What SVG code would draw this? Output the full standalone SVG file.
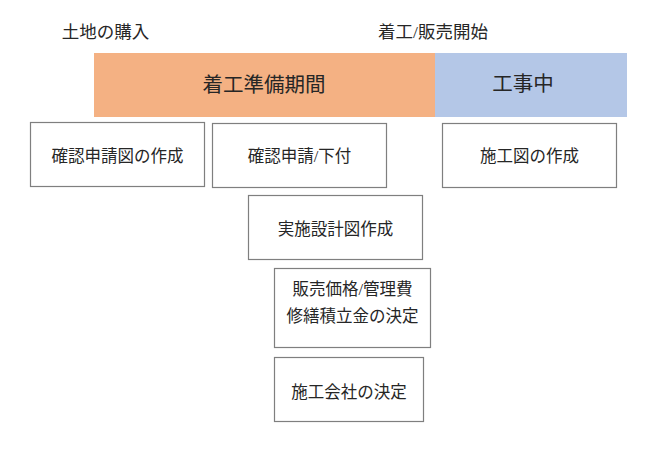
<svg xmlns="http://www.w3.org/2000/svg" width="654" height="454" viewBox="0 0 654 454">
<style>
text{font-family:"Liberation Serif","Noto Sans CJK JP",serif;fill:#262626;text-anchor:middle}
.box{fill:#fff;stroke:#7f7f7f;stroke-width:1.2}
.t{font-size:16.5px}
.lbl{font-size:17.5px}
.big{font-size:20.5px}
</style>
<rect width="654" height="454" fill="#fff"/>
<g id="label-land"><text class="lbl" x="105.5" y="38">土地の購入</text></g>
<g id="label-start"><text class="lbl" x="433" y="38">着工/販売開始</text></g>
<g id="phase-prep"><rect x="94" y="53" width="341" height="64" fill="#F4B183"/><text class="big" x="264" y="92">着工準備期間</text></g>
<g id="phase-build"><rect x="435" y="53" width="192" height="64" fill="#B4C7E7"/><text class="big" x="523" y="91">工事中</text></g>
<g id="n1"><rect class="box" x="30.5" y="122.5" width="174" height="64"/><text class="t" x="117.5" y="162">確認申請図の作成</text></g>
<g id="n2"><rect class="box" x="212.5" y="123.5" width="174" height="64"/><text class="t" x="299.5" y="162">確認申請/下付</text></g>
<g id="n3"><rect class="box" x="442.5" y="123.5" width="174" height="64"/><text class="t" x="529.5" y="162">施工図の作成</text></g>
<g id="n4"><rect class="box" x="248.5" y="195.5" width="174" height="64"/><text class="t" x="335.5" y="235">実施設計図作成</text></g>
<g id="n5"><rect class="box" x="274.5" y="268.5" width="156" height="79"/><text class="t" x="352.5" y="295">販売価格/管理費</text><text class="t" x="352.5" y="322">修繕積立金の決定</text></g>
<g id="n6"><rect class="box" x="274.5" y="357.5" width="149" height="64"/><text class="t" x="349" y="398">施工会社の決定</text></g>
<g id="connectors"/>
</svg>
